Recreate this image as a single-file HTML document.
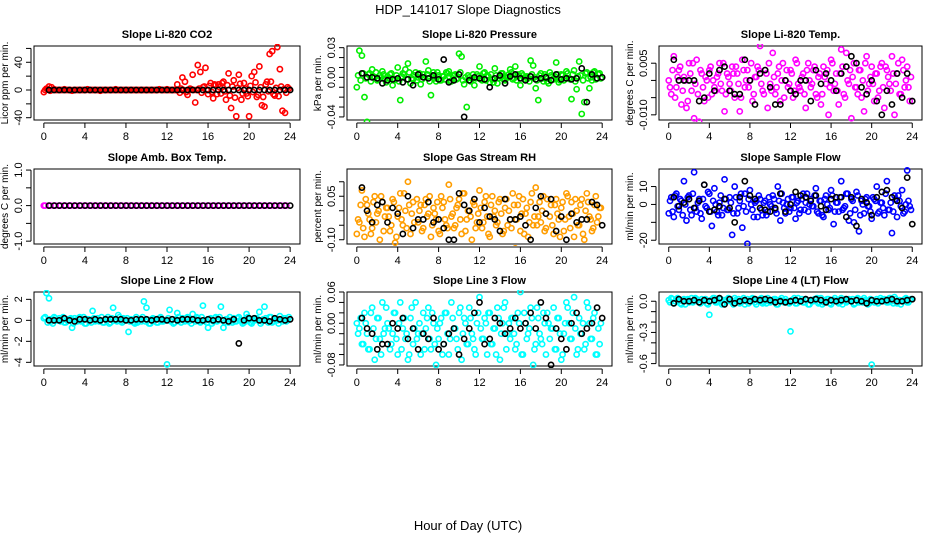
<!DOCTYPE html>
<html><head><meta charset="utf-8">
<style>
html,body{margin:0;padding:0;background:#fff;}
svg{display:block;font-family:"Liberation Sans",sans-serif;}
</style></head>
<body>
<svg id="chart" width="936" height="540" viewBox="0 0 936 540" xmlns="http://www.w3.org/2000/svg">
<text x="468" y="14" text-anchor="middle" font-size="13">HDP_141017  Slope Diagnostics</text>
<text x="468" y="530" text-anchor="middle" font-size="13">Hour of Day (UTC)</text>
</svg>
<script>
// colored series: 96 pts at hours i*0.25; core series: 96 pts at i*0.25+0.125; black: 48 pts at 0.5+i*0.5
const hourTicks = [0,4,8,12,16,20,24];
const co2Colored = [-3,2,5,4,1,0,0,0,1,0,0,-1, 0,0,0,0,0,1,0,0,0,0,-1,0, 0,0,0,0,1,0,0,0,0,0,0,0, 0,0,0,0,0,0,0,0,0,1,0,0, 1,0,0,0,8,-4,18,12,-7,2,22,-18, 36,26,4,32,-6,10,-12,7,8,-5,12,-14, 24,-26,14,-38,22,-14,10,-5,-38,20,26,-10, 34,-22,-24,12,52,56,-8,62,30,-30,-33,4];
const co2Core = [0,1,-1,0,0,0,0,0,0,0,0,0, 0,0,0,0,0,0,0,0,0,0,0,0, 0,0,0,0,0,0,0,0,0,0,0,0, 0,0,0,0,0,0,0,0,0,0,0,0, 0,0,0,0,0,2,0,-3,0,1,0,0, 2,-4,5,0,6,-3,8,-6,4,10,-2,7, -8,5,-11,3,9,-5,2,-9,6,-3,11,-7, 4,-10,8,-2,12,-6,3,-9,5,1,-4,2];
const co2Black = [0,0,0,0,0,0,0,0,0,0,0,0,0,0,0,0,0,0,0,0,0,0,0,0,0,0,0,0,0,0,0,0,0,0,0,0,0,0,0,0,0,0,0,0,0,0,0,0];
const pressColored = [-10,27,22,-20,-45,4,8,0,-3,2,6,-2, 1,3,-8,-2,10,-23,4,8,14,-6,-2,5, 0,-7,3,16,7,-18,5,-4,2,-3,1,5, 6,-4,2,-2,24,21,-7,-30,0,-1,-8,3, 11,-3,5,2,-5,-2,9,-6,1,4,-3,0, 8,-2,11,3,-8,2,0,-1,17,12,-11,-23, 4,-4,1,-6,2,-2,15,-5,3,-3,6,-1, -22,7,-12,16,-37,-25,5,-11,-3,6,-1,4];
const pressCore = [2,-3,4,-1,3,-4,1,5,-2,0,3,-5, -1,4,-3,2,-4,1,3,-2,5,-1,2,-3, 4,-2,0,3,-4,2,-1,5,-3,1,-2,4, -4,2,3,-1,5,-3,0,2,-4,3,-1,1, -2,4,-3,1,3,-5,2,-1,4,-2,0,3, 5,-1,-3,2,4,-2,1,-4,3,0,-3,2, -1,3,-4,5,-2,1,3,-3,2,-1,4,-2, 3,-4,1,2,-3,4,-1,0,5,-2,3,-1];
const pressBlack = [4,0,0,-1,-6,-3,-2,-1,-5,-2,-8,3, 0,-1,2,-2,18,-5,-3,3,-40,-3,0,-1, -2,-10,-1,2,-6,1,3,-1,-3,1,-2,-1, 0,-3,3,-2,-1,-2,-1,9,-25,3,-1,0];
const tempColored = [0,-4,7,-2,3,-7,1,-8,5,-3,-11,6, -12,2,-6,0,3,-4,-2,1,5,-3,-9,2, -1,4,-5,2,-9,6,-2,3,0,-6,1,4, 10,-3,3,-8,-1,8,-4,2,-6,5,0,-2, 3,-5,6,-1,-3,2,-8,5,-2,3,-4,1, -7,4,-1,-10,6,-3,2,-7,9,-4,8,-1, -11,5,-2,3,-5,-9,7,-1,4,-6,2,-3, 5,-8,3,-1,7,-10,2,-4,6,-2,4,-6];
const tempCore = [-2,3,-5,1,4,-3,0,-6,2,5,-1,-4, 3,-2,1,-5,4,0,-3,2,-1,5,-4,1, -3,2,4,-1,-5,3,0,-2,5,-4,1,3, -1,-4,2,5,-3,1,-2,4,0,-5,3,-1, 2,-3,5,-2,1,-4,3,0,-1,4,-5,2, -4,1,3,-2,5,-1,-3,2,4,-5,0,3, 1,-2,-4,3,0,5,-3,1,-1,2,-5,4, -2,4,1,-3,2,-1,5,-4,3,0,-2,1];
const tempBlack = [6,0,0,0,0,-6,-5,2,-3,3,4,-3,-4,-4,6,0,-7,2,3,-2,-7,-7,0,-3,-4,0,0,-6,3,-1,2,0,-3,2,4,7,5,-2,-4,0,-6,-10,-3,-7,2,-5,2,-6];
const ambColored = [0,0,0,0,0,0,0,0,0,0,0,0,0,0,0,0,0,0,0,0,0,0,0,0,0,0,0,0,0,0,0,0,0,0,0,0,0,0,0,0,0,0,0,0,0,0,0,0];
const ambCore = [0,0,0,0,0,0,0,0,0,0,0,0,0,0,0,0,0,0,0,0,0,0,0,0,0,0,0,0,0,0,0,0,0,0,0,0,0,0,0,0,0,0,0,0,0,0,0,0];
const ambBlack = [0,0,0,0,0,0,0,0,0,0,0,0,0,0,0,0,0,0,0,0,0,0,0,0,0,0,0,0,0,0,0,0,0,0,0,0,0,0,0,0,0,0,0,0,0,0,0,0];
const rhColored = [-8,-4,7,-9,2,-3,-6,5,-1,-10,3,-2, 1,-7,4,-11,-2,6,-5,0,10,-8,3,-14, -4,2,-6,4,-1,-9,1,-3,-7,5,3,-5, 9,-2,-6,1,4,-8,6,-3,0,-10,2,-4, 7,-6,3,-2,-9,5,0,-4,4,-8,1,-5, -3,6,-13,2,-7,4,-1,-9,3,-5,8,-2, -4,5,-6,-15,2,-8,4,-3,1,-7,6,-2, 3,-9,0,-5,4,-10,6,-2,-7,2,-4,1];
const rhCore = [-3,2,-6,4,-1,-8,3,-4,0,5,-7,1, -2,-5,3,-9,1,-3,6,-6,2,-1,-4,4, 0,-7,2,-2,5,-5,-1,3,-8,1,-3,-6, 4,-1,-5,2,-3,6,-7,0,-2,3,-6,-1, 1,-4,5,-8,2,-2,-5,3,-1,-7,4,0, -6,2,-3,5,-1,-8,1,-4,6,-2,-5,3, 0,-7,4,-2,-5,2,-1,-9,3,-3,5,-6, -1,4,-5,2,-8,0,3,-3,-6,5,-2,1];
const rhBlack = [8,0,-4,2,3,-4,1,-1,-8,5,-6,-3,-3,3,-4,-3,-6,-10,-10,6,2,0,4,-4,1,-2,-3,-7,4,-3,-3,-2,-5,-10,1,5,-1,4,-7,-2,-10,-1,-4,-3,-3,3,2,-5];
const sampleColored = [-5,4,-7,6,-3,2,13,-9,5,-6,18,-4, 3,-8,11,-2,6,-12,9,-4,1,-6,14,-3, 4,-17,10,-5,2,-13,6,-22,8,-3,1,-7, 3,-6,2,-4,0,5,-3,10,-9,1,-5,3, -2,4,-8,2,-3,6,1,-4,3,-1,9,-5, 2,-7,5,-3,8,-11,1,-4,13,-2,6,-9, 3,-10,7,-15,2,-5,4,-1,-8,3,10,-4, 1,-6,13,-3,-16,5,-7,2,8,-4,19,-1];
const sampleCore = [2,-4,5,-1,3,-6,0,4,-3,6,-2,1, -5,3,-1,7,-4,2,0,-6,5,-2,3,-3, 1,-5,4,-2,6,-1,-4,3,0,-7,2,5, -3,1,-6,4,-1,3,-5,2,6,-2,0,-4, 4,-2,1,-5,3,-3,6,0,-1,5,-4,2, -6,3,0,-2,5,-4,1,4,-3,-1,6,-5, 2,-3,5,-6,0,3,-1,-4,4,2,-5,1, -2,6,-3,1,-4,3,5,-1,-5,0,2,-3];
const sampleBlack = [4,-1,1,3,-2,2,11,-4,-3,-1,3,-2,-10,4,13,5,3,-2,-3,-4,-2,6,-4,0,7,5,4,2,5,-1,-3,3,4,4,-7,4,-12,3,1,-6,4,7,8,4,2,-2,15,-11];
const line2Colored = [2,26,21,-1,3,0,2,1,-2,0,1,-7, 2,-1,3,0,-3,1,0,9,-1,2,0,-2, 1,3,-2,12,0,5,-1,2,0,-11,1,-2, 3,0,-1,18,12,-3,1,0,-2,2,-1,0, -42,10,1,-2,7,0,2,-1,3,0,6,-1, 2,-2,14,0,-7,2,-1,3,0,13,-7,1, -2,0,2,-1,3,0,-2,6,1,-3,0,2, 8,-1,13,0,3,-2,1,0,4,-1,2,0];
const line2Core = [3,-2,1,-3,2,0,-1,3,-2,1,2,-3, 0,2,-1,3,-3,1,-2,2,0,-1,3,-2, 1,-3,2,0,-1,3,-2,1,2,-1,0,-3, -2,1,3,-1,0,-3,2,1,-2,3,-1,0, 2,-1,-3,1,3,-2,0,2,-1,-3,1,3, -1,3,0,-2,1,-3,2,-1,3,0,-2,1, 3,-2,-1,2,0,-3,1,3,-2,-1,2,0, -3,1,2,-2,3,-1,0,-3,1,2,-1,3];
const line2Black = [0,0,0,2,0,-1,1,1,0,1,0,1,1,1,1,0,0,1,1,1,0,1,1,0,1,0,1,1,1,0,0,1,0,1,0,-1,1,-22,0,2,2,0,0,-1,2,1,0,1];
const line3Colored = [0,-1,-4,2,-2,-5,3,-7,1,-3,4,-1, 0,-5,-2,2,-6,4,-1,-3,-7,1,-4,4, -2,-6,2,-1,3,-5,0,-8,-3,1,-4,2, -6,4,-1,-3,2,-7,1,-4,3,-2,-5,0, 5,-3,1,-6,2,-4,-1,3,-7,0,4,-2, -3,1,-5,2,6,-6,0,-2,3,-8,-4,1, -3,2,-6,0,-1,3,-5,1,-7,-2,4,0, -3,5,-6,1,-2,-5,4,0,-3,2,-6,-4];
const line3Core = [-2,1,-4,0,-5,2,-1,-3,1,-6,-2,3, -1,-4,2,-3,0,-5,1,-2,-6,3,-1,-3, 0,-2,-5,1,-3,2,-4,-1,0,-6,2,-2, -3,1,-1,-5,3,-2,0,-4,1,-3,-6,2, -1,-3,0,2,-4,-1,-6,1,-2,3,-5,0, 1,-2,-4,0,-6,2,-3,-1,1,-5,3,-2, -4,0,2,-3,-1,-5,1,-2,-6,0,3,-3, 2,-1,-5,-2,0,-4,3,-3,1,-6,-1,0];
const line3Black = [1,-1,-2,-5,-4,-4,0,-1,1,-3,-1,-5,-2,-3,1,-5,-4,-2,-1,-6,-3,-1,2,4,-4,-3,1,0,-2,-1,1,-1,0,2,-1,4,1,-8,-1,-3,-5,0,2,-2,-1,0,3,1];
const line4Colored = [1,3,-2,2,0,-3,2,1,-1,3,0,2, -1,2,0,-2,-13,1,3,-1,2,-3,1,0, 2,-1,3,0,-2,1,-3,2,0,3,-1,1, 2,-2,0,3,-1,1,2,-3,1,0,2,-1, -29,1,-2,3,0,-1,2,-3,1,0,2,-2, 3,-1,0,2,-3,1,0,-2,3,1,-1,2, 0,-3,2,-1,1,3,0,-2,-61,-1,2,0, 1,2,-1,3,0,4,-2,1,0,2,-1,1];
const line4Core = [-1,2,0,3,-2,1,-3,2,0,-1,3,1, -2,0,2,-3,1,3,-1,0,2,-2,1,3, 0,-3,1,2,-1,3,0,-2,2,1,-3,0, 3,-1,-2,1,0,2,-3,1,3,-1,0,-2, 1,3,-2,0,2,-1,1,-3,0,2,3,-1, -3,1,2,-2,0,3,1,-1,-3,2,0,1, 2,-2,3,0,-1,1,-3,2,1,0,-2,3, 0,1,-1,3,-2,2,0,-3,1,3,-1,2];
const line4Black = [-2,2,0,0,1,-1,1,0,1,3,-3,2,-2,0,1,0,2,1,2,1,-1,0,-1,0,1,0,2,1,2,1,-1,1,0,1,2,0,1,0,-2,1,0,0,1,2,0,0,1,2];

const NS = "http://www.w3.org/2000/svg";
const svg = document.getElementById('chart');
function mk(tag, attrs){const e=document.createElementNS(NS,tag);for(const k in attrs)e.setAttribute(k,attrs[k]);return e;}

const cols = [[34,300],[347,612],[659,922]];
const rows = [[46,120],[169,244],[292,366]];

const panels = [
 {name:'co2',title:'Slope Li-820 CO2',ylab:'Licor ppm per min.',color:'#ff0000',unit:1,ymin:-43.3,ymax:63.5,ticks:[-40,-20,0,20,40,60],labels:[-40,0,40],fmt:v=>String(v),c:co2Colored,k:co2Core,b:co2Black},
 {name:'pressure',title:'Slope Li-820 Pressure',ylab:'kPa per min.',color:'#00ee00',unit:0.001,ymin:-0.0431,ymax:0.0317,ticks:[-0.04,-0.03,-0.02,-0.01,0,0.01,0.02,0.03],labels:[-0.04,0,0.03],fmt:v=>v.toFixed(2),c:pressColored,k:pressCore,b:pressBlack},
 {name:'temp',title:'Slope Li-820 Temp.',ylab:'degrees C per min.',color:'#ff00ff',unit:0.001,ymin:-0.0115,ymax:0.0100,ticks:[-0.01,-0.005,0,0.005],labels:[-0.01,0.005],fmt:v=>v.toFixed(3),c:tempColored,k:tempCore,b:tempBlack},
 {name:'amb-box-temp',title:'Slope Amb. Box Temp.',ylab:'degrees C per min.',color:'#ff00ff',unit:1,ymin:-1.08,ymax:1.03,ticks:[-1,-0.5,0,0.5,1],labels:[-1,0,1],fmt:v=>v.toFixed(1),c:ambColored,k:ambCore,b:ambBlack},
 {name:'rh',title:'Slope Gas Stream RH',ylab:'percent per min.',color:'#ff9d00',unit:0.01,ymin:-0.1147,ymax:0.144,ticks:[-0.15,-0.1,-0.05,0,0.05,0.1],labels:[-0.1,0.05],fmt:v=>v.toFixed(2),c:rhColored,k:rhCore,b:rhBlack},
 {name:'sample-flow',title:'Slope Sample Flow',ylab:'ml/min per min.',color:'#0000ff',unit:1,ymin:-22.1,ymax:19.8,ticks:[-20,-10,0,10,20],labels:[-20,0,10],fmt:v=>String(v),c:sampleColored,k:sampleCore,b:sampleBlack},
 {name:'line2-flow',title:'Slope Line 2 Flow',ylab:'ml/min per min.',color:'#00ffff',unit:0.1,ymin:-4.35,ymax:2.7,ticks:[-4,-2,0,2],labels:[-4,-2,0,2],fmt:v=>String(v),c:line2Colored,k:line2Core,b:line2Black},
 {name:'line3-flow',title:'Slope Line 3 Flow',ylab:'ml/min per min.',color:'#00ffff',unit:0.01,ymin:-0.082,ymax:0.06,ticks:[-0.08,-0.06,-0.04,-0.02,0,0.02,0.04,0.06],labels:[-0.08,0,0.06],fmt:v=>v.toFixed(2),c:line3Colored,k:line3Core,b:line3Black},
 {name:'line4-flow',title:'Slope Line 4 (LT) Flow',ylab:'ml/min per min.',color:'#00ffff',unit:0.01,ymin:-0.623,ymax:0.089,ticks:[-0.6,-0.5,-0.4,-0.3,-0.2,-0.1,0],labels:[-0.6,-0.3,0],fmt:v=>v.toFixed(1),c:line4Colored,k:line4Core,b:line4Black}
];

panels.forEach((p,idx)=>{
  const [L,R]=cols[idx%3], [T,B]=rows[Math.floor(idx/3)];
  const xmin=-0.96, xmax=24.96;
  const xs=h=>L+(h-xmin)/(xmax-xmin)*(R-L);
  const ys=v=>B-(v-p.ymin)/(p.ymax-p.ymin)*(B-T);
  const g=mk('g',{});
  
  
  svg.appendChild(g);
  const t=mk('text',{x:(L+R)/2,y:T-8,'text-anchor':'middle','font-size':'11','font-weight':'bold'});
  
  
  t.textContent=p.title; g.appendChild(t);
  const box=mk('rect',{x:L,y:T,width:R-L,height:B-T,fill:'none',stroke:'#000','stroke-width':1});
  
  
  g.appendChild(box);
  const xa=mk('g',{});
  
  
  g.appendChild(xa);
  xa.appendChild(mk('line',{x1:xs(hourTicks[0]),x2:xs(hourTicks[hourTicks.length-1]),y1:B+3,y2:B+3,stroke:'#000'}));
  hourTicks.forEach(h=>{
    xa.appendChild(mk('line',{x1:xs(h),x2:xs(h),y1:B+3,y2:B+8,stroke:'#000'}));
    const tl=mk('text',{x:xs(h),y:B+20,'text-anchor':'middle','font-size':'11'});
    
    
    tl.textContent=h; xa.appendChild(tl);
  });
  const ya=mk('g',{});
  
  
  g.appendChild(ya);
  const tk=p.ticks.filter(v=>v>=p.ymin-1e-9&&v<=p.ymax+1e-9);
  ya.appendChild(mk('line',{x1:L-3,x2:L-3,y1:ys(tk[0]),y2:ys(tk[tk.length-1]),stroke:'#000'}));
  tk.forEach(v=>ya.appendChild(mk('line',{x1:L-3,x2:L-8,y1:ys(v),y2:ys(v),stroke:'#000'})));
  p.labels.forEach(v=>{
    const yl=mk('text',{x:L-12,y:ys(v),'text-anchor':'middle','font-size':'11',transform:`rotate(-90 ${L-12} ${ys(v)})`});
    
    
    yl.textContent=p.fmt(v); ya.appendChild(yl);
  });
  const yt=mk('text',{x:L-26,y:(T+B)/2,'text-anchor':'middle','font-size':'10',transform:`rotate(-90 ${L-26} ${(T+B)/2})`});
  
  
  yt.textContent=p.ylab; g.appendChild(yt);
  const clip='clip'+idx;
  const cp=mk('clipPath',{id:clip}); cp.appendChild(mk('rect',{x:L,y:T-2,width:R-L,height:B-T+4})); svg.appendChild(cp);
  const sc=mk('g',{'clip-path':`url(#${clip})`});
  
  
  g.appendChild(sc);
  p.k.forEach((v,i)=>{
    const c=mk('circle',{cx:xs(0.125+i*24/p.k.length),cy:ys(v*p.unit),r:2.6,fill:'none',stroke:p.color,'stroke-width':1.6});
    
    
    sc.appendChild(c);
  });
  p.c.forEach((v,i)=>{
    const c=mk('circle',{cx:xs(i*24/p.c.length),cy:ys(v*p.unit),r:2.6,fill:'none',stroke:p.color,'stroke-width':1.6});
    
    
    sc.appendChild(c);
  });
  const sb=mk('g',{'clip-path':`url(#${clip})`});
  
  
  g.appendChild(sb);
  p.b.forEach((v,i)=>{
    const c=mk('circle',{cx:xs(0.5+i*24/p.b.length),cy:ys(v*p.unit),r:2.6,fill:'none',stroke:'#000','stroke-width':1.6});
    
    
    sb.appendChild(c);
  });
});
</script>
</body></html>
